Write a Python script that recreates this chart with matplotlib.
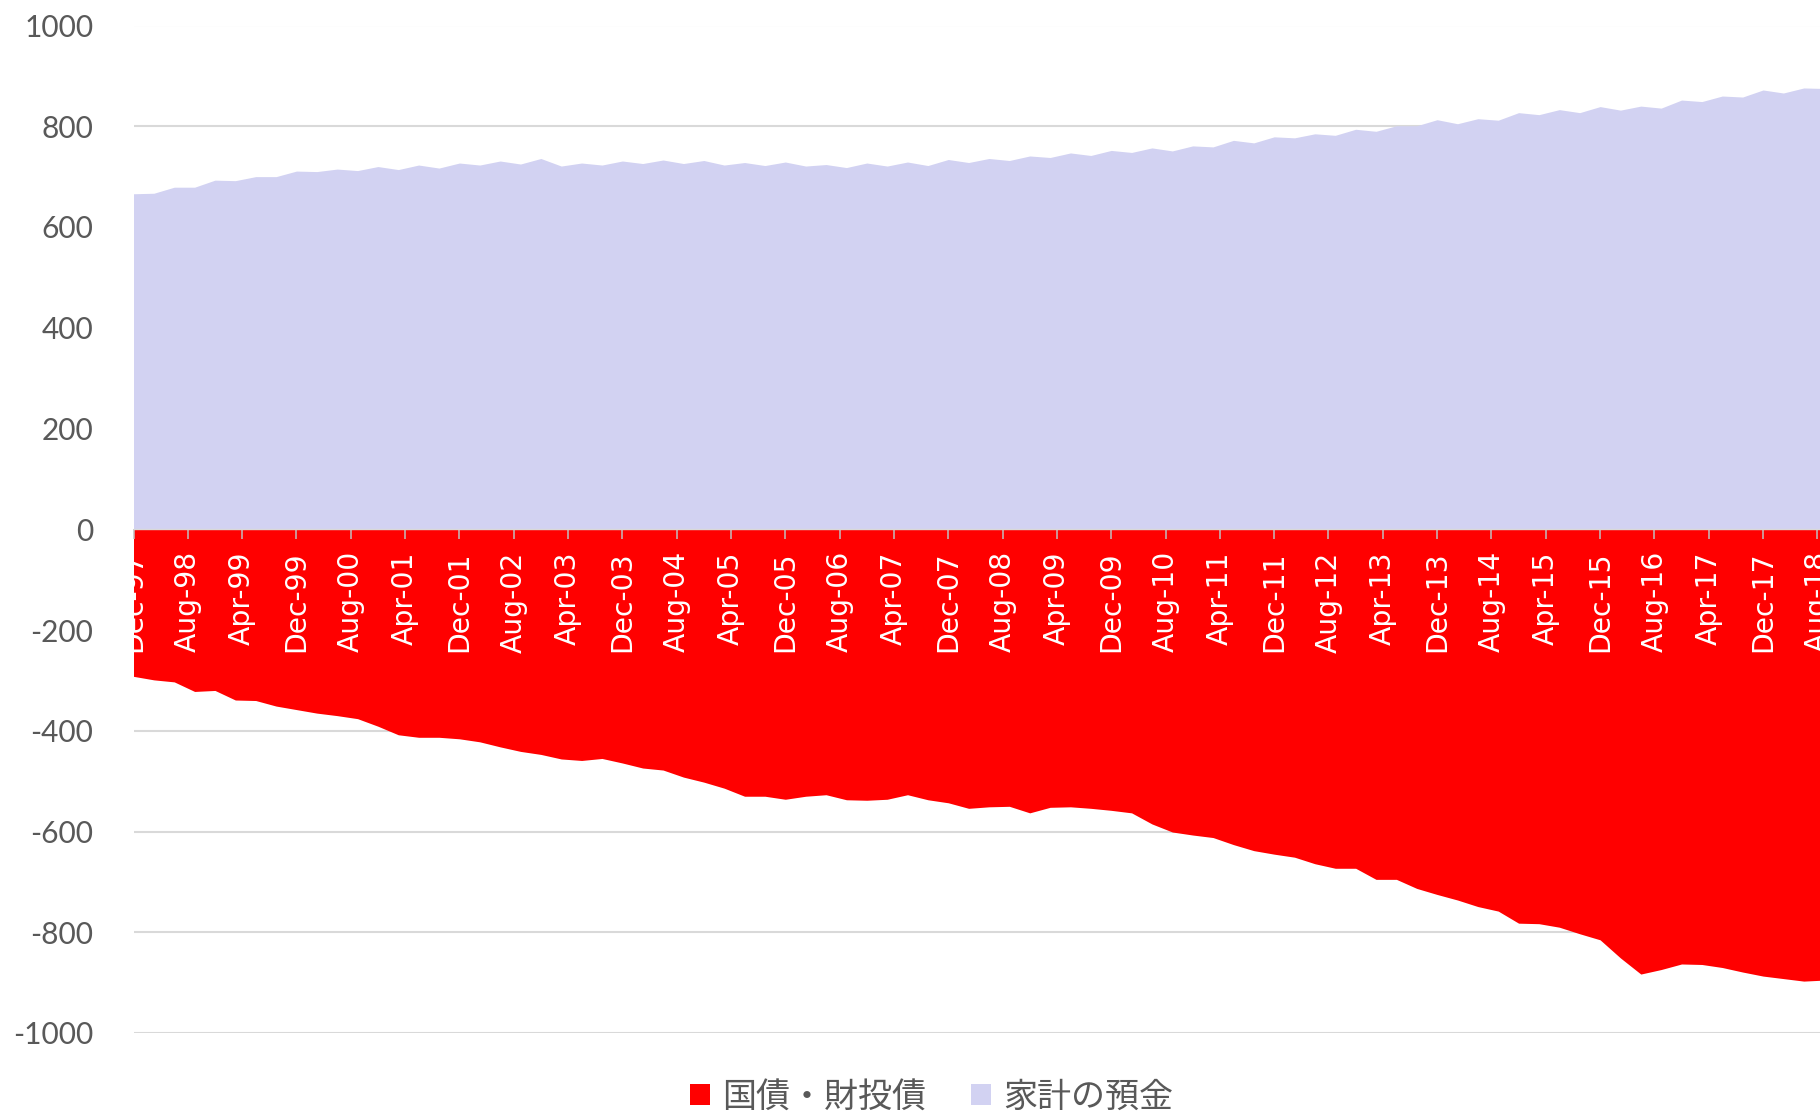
import numpy as np
import matplotlib.pyplot as plt
from matplotlib.patches import Patch
from matplotlib.font_manager import FontProperties

# quarterly, Dec-97 .. Sep-18
deposits = [666, 667, 679, 679, 693, 692, 700, 700, 711, 710,
            715, 712, 720, 714, 723, 717, 727, 723, 731, 725,
            736, 721, 727, 723, 731, 726, 733, 726, 732, 723,
            728, 722, 729, 721, 724, 718, 727, 721, 729, 722,
            734, 728, 736, 732, 741, 738, 747, 742, 752, 748,
            757, 751, 761, 759, 772, 767, 779, 777, 785, 782,
            794, 790, 801, 801, 813, 805, 815, 812, 827, 823,
            833, 827, 839, 832, 840, 836, 852, 849, 860, 858,
            872, 866, 876, 875]
bonds = [-292, -299, -303, -322, -320, -339, -340, -351, -358, -365,
         -370, -376, -391, -408, -413, -413, -416, -422, -432, -441,
         -447, -456, -459, -455, -464, -474, -478, -492, -502, -514,
         -530, -530, -536, -530, -527, -537, -538, -536, -527, -537,
         -543, -554, -551, -550, -563, -552, -551, -554, -558, -563,
         -585, -601, -607, -612, -626, -638, -645, -651, -664, -673,
         -673, -695, -695, -713, -725, -736, -749, -758, -782, -783,
         -790, -803, -815, -851, -883, -874, -863, -864, -870, -879,
         -887, -892, -897, -895]

tick_labels = ['Dec-97', 'Aug-98', 'Apr-99', 'Dec-99', 'Aug-00', 'Apr-01',
               'Dec-01', 'Aug-02', 'Apr-03', 'Dec-03', 'Aug-04', 'Apr-05',
               'Dec-05', 'Aug-06', 'Apr-07', 'Dec-07', 'Aug-08', 'Apr-09',
               'Dec-09', 'Aug-10', 'Apr-11', 'Dec-11', 'Aug-12', 'Apr-13',
               'Dec-13', 'Aug-14', 'Apr-15', 'Dec-15', 'Aug-16', 'Apr-17',
               'Dec-17', 'Aug-18']
yticks = [-1000, -800, -600, -400, -200, 0, 200, 400, 600, 800, 1000]
series_names = ['国債・財投債', '家計の預金']

red = '#FF0000'
lavender = '#D2D2F2'

# months since Dec-97
x = np.arange(len(deposits)) * 3
tick_pos = np.arange(len(tick_labels)) * 8

fig = plt.figure(figsize=(18.2, 11.11), dpi=100)
# axes runs past the right edge of the figure, like the cropped original
ax = fig.add_axes([133.5 / 1820, 78 / 1111, 1711 / 1820, 1007.5 / 1111])
ax.set_xlim(0, 252)
ax.set_ylim(-1000, 1000)

for y in yticks:
    ax.axhline(y, color='#D9D9D9', lw=1.5, zorder=0)

ax.fill_between(x, 0, deposits, color=lavender, lw=0, zorder=1)
ax.fill_between(x, bonds, 0, color=red, lw=0, zorder=1)

for s in ['top', 'right', 'left']:
    ax.spines[s].set_visible(False)
ax.spines['bottom'].set_position(('data', 0))
ax.spines['bottom'].set_color('#D9D9D9')
ax.spines['bottom'].set_linewidth(1.0)

ax.set_xticks(tick_pos, labels=tick_labels, fontfamily='DejaVu Sans')
ax.tick_params(axis='x', direction='out', length=7.2, width=1.1,
               color='#BFBFBF', pad=8.6, labelsize=20.3,
               labelcolor='white', labelrotation=90)
for lbl in ax.get_xticklabels():
    lbl.set_clip_box(ax.bbox)
    lbl.set_clip_on(True)

ax.set_yticks(yticks, labels=[str(v) for v in yticks], fontfamily='Lato')
ax.tick_params(axis='y', length=0, pad=29, labelsize=21.5,
               labelcolor='#595959')

handles = [Patch(facecolor=red, edgecolor='none'),
           Patch(facecolor=lavender, edgecolor='none')]
fig.legend(handles, series_names, loc='center',
           bbox_to_anchor=(931.5 / 1820, 14 / 1111), ncol=2, frameon=False,
           prop=FontProperties(family=['Noto Sans CJK JP', 'DejaVu Sans'],
                               size=24.5),
           labelcolor='#595959', handlelength=0.6, handleheight=0.6,
           handletextpad=0.35, columnspacing=1.3, borderpad=0)

fig.savefig('out.png', dpi=100)
